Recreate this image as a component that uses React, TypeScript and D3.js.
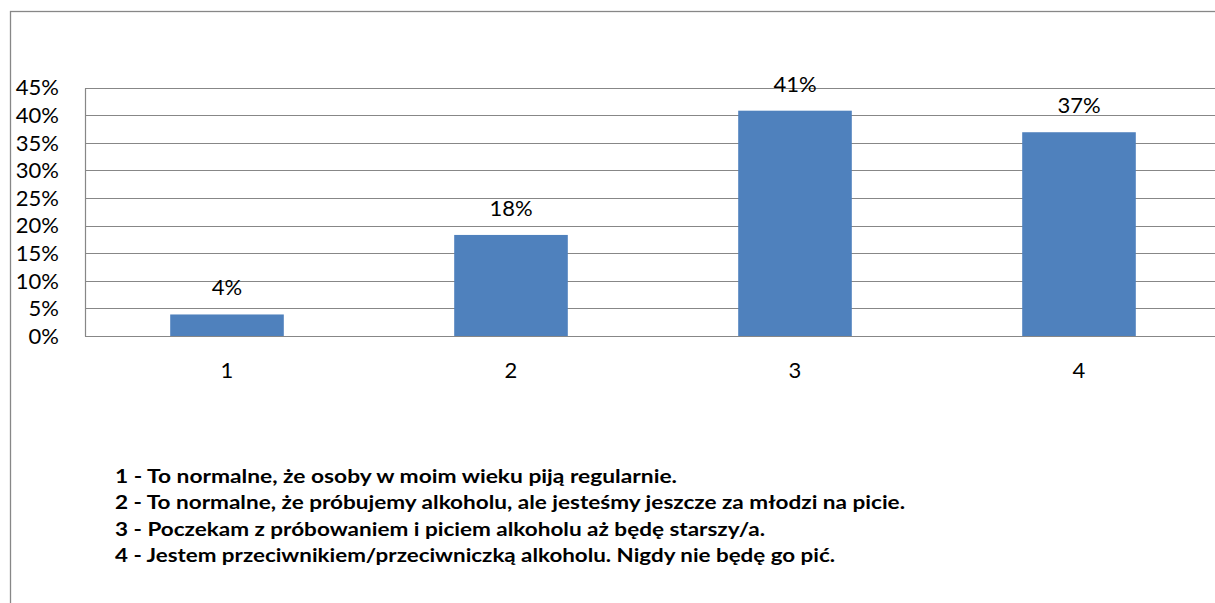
import React from "react";
import * as d3 from "d3";

const categories = ["1", "2", "3", "4"];
const values = [0.039, 0.183, 0.408, 0.369];
const yTicks = [0, 0.05, 0.1, 0.15, 0.2, 0.25, 0.3, 0.35, 0.4, 0.45];
const legendLines = [
  "1 - To normalne, że osoby w moim wieku piją regularnie.",
  "2 - To normalne, że próbujemy alkoholu, ale jesteśmy jeszcze za młodzi na picie.",
  "3 - Poczekam z próbowaniem i piciem alkoholu aż będę starszy/a.",
  "4 - Jestem przeciwnikiem/przeciwniczką alkoholu. Nigdy nie będę go pić.",
];

const W = 1215;
const H = 603;
const FONT = "Lato, 'Liberation Sans', sans-serif";
const GRID = "#878787";

export default function App() {
  const x = d3.scaleBand<string>().domain(categories).range([85, 85 + 284 * 4]).paddingInner(0.6).paddingOuter(0.3);
  const y = d3.scaleLinear().domain([0, 0.45]).range([336, 87.5]);
  const fmt = d3.format(".0%");
  const legendTargetWidths = [562, 790, 650, 720];

  return (
    <svg width={W} height={H} style={{ position: "absolute", left: 0, top: 0, background: "#fff" }} fontFamily={FONT}>
      <rect x={0} y={0} width={W} height={H} fill="#fff" />
      {/* outer chart border */}
      <rect x={10.5} y={11.5} width={W + 100} height={H + 100} fill="none" stroke={GRID} strokeWidth={1.3} />
      {/* gridlines */}
      {yTicks.map((t) => (
        <line key={t} x1={85} x2={W + 10} y1={Math.round(y(t)) + 0.5} y2={Math.round(y(t)) + 0.5} stroke={GRID} strokeWidth={1.2} />
      ))}
      <line x1={85.5} x2={85.5} y1={Math.round(y(0.45)) + 0.5} y2={Math.round(y(0)) + 0.5} stroke={GRID} strokeWidth={1.2} />
      {/* y tick labels */}
      {yTicks.map((t) => (
        <text key={t} x={59} y={y(t)} dy="0.36em" textAnchor="end" fontSize={22} fill="#000">
          {fmt(t)}
        </text>
      ))}
      {/* bars */}
      {categories.map((c, i) => (
        <rect key={c} x={x(c)} y={y(values[i])} width={x.bandwidth()} height={y(0) - y(values[i])} fill="#4F81BD" />
      ))}
      {/* data labels */}
      {categories.map((c, i) => (
        <text key={c} x={(x(c) as number) + x.bandwidth() / 2} y={y(values[i]) - 19} textAnchor="middle" fontSize={22} fill="#000">
          {fmt(values[i])}
        </text>
      ))}
      {/* x labels */}
      {categories.map((c) => (
        <text key={c} x={(x(c) as number) + x.bandwidth() / 2} y={378} textAnchor="middle" fontSize={22} fill="#000">
          {c}
        </text>
      ))}
      {/* legend */}
      {legendLines.map((l, i) => (
        <text key={i} x={115} y={483 + i * 26.3} fontSize={19} fontWeight="bold" fill="#000" textLength={legendTargetWidths[i]} lengthAdjust="spacingAndGlyphs">
          {l}
        </text>
      ))}
    </svg>
  );
}
